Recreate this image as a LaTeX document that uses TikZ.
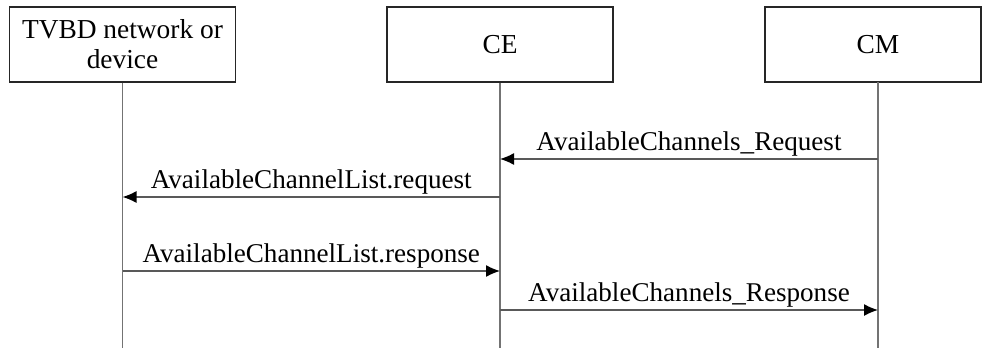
\documentclass[tikz,border=0pt]{standalone}
\usepackage{fontspec}
\setmainfont{Liberation Serif}
\usetikzlibrary{arrows.meta}
\begin{document}
\begin{tikzpicture}[x=1bp,y=-1bp,
  entity/.style={draw=black!85,line width=1.1bp,minimum width=226bp,minimum height=75bp,
    inner sep=0pt,align=center,font=\fontsize{27.5}{30}\selectfont},
  lifeline/.style={draw=black!55,line width=1.3bp},
  msg/.style={draw=black!65,line width=1.3bp,-{Latex[length=14bp,width=12bp,black]}},
  lbl/.style={font=\fontsize{27.2}{30}\selectfont,above=2bp,inner sep=0pt}]
  \useasboundingbox (0,0) rectangle (982,348);
  % participants
  \node[entity] (tvbd) at (122.5,44.5) {TVBD network or\\device};
  \node[entity] (ce) at (500,44.5) {CE};
  \node[entity,minimum width=216bp] (cmbox) at (873,44.5) {};
  \node[font=\fontsize{27.5}{30}\selectfont] (cm) at (878,44.5) {CM};
  % lifelines
  \coordinate (tvbdEnd) at (122.5,348);
  \coordinate (ceEnd) at (500,348);
  \coordinate (cmTop) at (878,82);
  \coordinate (cmEnd) at (878,348);
  \draw[lifeline] (tvbd.south) -- (tvbdEnd);
  \draw[lifeline] (ce.south) -- (ceEnd);
  \draw[lifeline] (cmTop) -- (cmEnd);
  % message points on the lifelines
  \coordinate (m1a) at (878,159);   \coordinate (m1b) at (500,159);
  \coordinate (m2a) at (500,197);   \coordinate (m2b) at (122.5,197);
  \coordinate (m3a) at (122.5,271); \coordinate (m3b) at (500,271);
  \coordinate (m4a) at (500,310);   \coordinate (m4b) at (878,310);
  % messages
  \draw[msg] (m1a) -- node[lbl] {AvailableChannels\_Request} (m1b);
  \draw[msg] (m2a) -- node[lbl] {AvailableChannelList.request} (m2b);
  \draw[msg] (m3a) -- node[lbl] {AvailableChannelList.response} (m3b);
  \draw[msg] (m4a) -- node[lbl] {AvailableChannels\_Response} (m4b);
\end{tikzpicture}
\end{document}
